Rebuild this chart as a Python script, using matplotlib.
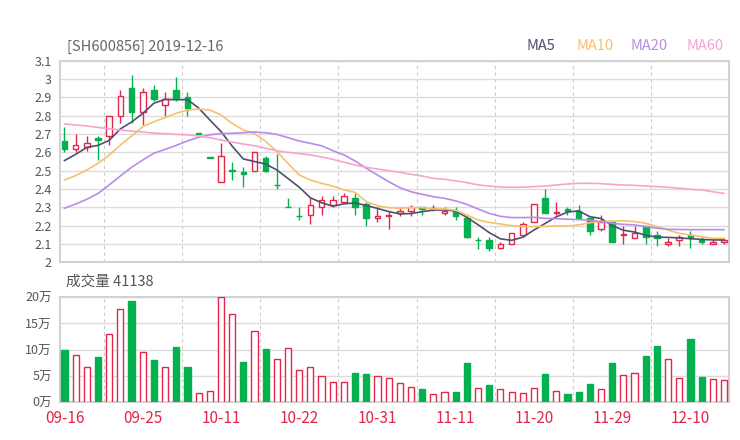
import matplotlib
matplotlib.use("Agg")
import matplotlib.pyplot as plt
import numpy as np

plt.rcParams['font.family'] = ['Noto Sans CJK SC', 'DejaVu Sans']

# ---------------- data ----------------
title_text = "[SH600856] 2019-12-16"
latest_volume = 41138

tick_pos = [0, 7, 14, 21, 28, 35, 42, 49, 56]
tick_labels = ["09-16", "09-25", "10-11", "10-22", "10-31", "11-11", "11-20", "11-29", "12-10"]

opens = [2.66, 2.62, 2.63, 2.68, 2.69, 2.80, 2.95, 2.82, 2.94, 2.86,
         2.94, 2.90, 2.70, 2.57, 2.44, 2.50, 2.49, 2.50, 2.57, 2.42,
         2.30, 2.25, 2.26, 2.30, 2.31, 2.33, 2.35, 2.32, 2.24, 2.25,
         2.27, 2.28, 2.30, 2.29, 2.27, 2.28, 2.24, 2.12, 2.12, 2.08,
         2.10, 2.15, 2.22, 2.35, 2.27, 2.29, 2.28, 2.24, 2.18, 2.22,
         2.15, 2.13, 2.20, 2.15, 2.10, 2.12, 2.15, 2.12, 2.10, 2.11]
highs = [2.74, 2.70, 2.69, 2.69, 2.80, 2.94, 3.02, 2.95, 2.97, 2.93,
         3.01, 2.93, 2.70, 2.57, 2.65, 2.55, 2.52, 2.60, 2.58, 2.59,
         2.35, 2.30, 2.35, 2.36, 2.36, 2.38, 2.38, 2.33, 2.30, 2.28,
         2.30, 2.31, 2.30, 2.31, 2.30, 2.30, 2.25, 2.14, 2.14, 2.11,
         2.16, 2.22, 2.32, 2.40, 2.33, 2.30, 2.31, 2.24, 2.26, 2.22,
         2.20, 2.20, 2.20, 2.17, 2.13, 2.15, 2.17, 2.14, 2.13, 2.13]
lows = [2.60, 2.60, 2.61, 2.56, 2.64, 2.76, 2.76, 2.75, 2.88, 2.80,
        2.88, 2.80, 2.70, 2.57, 2.44, 2.45, 2.41, 2.50, 2.49, 2.40,
        2.30, 2.23, 2.21, 2.26, 2.30, 2.33, 2.26, 2.20, 2.22, 2.18,
        2.25, 2.25, 2.26, 2.28, 2.26, 2.23, 2.13, 2.07, 2.06, 2.07,
        2.10, 2.14, 2.22, 2.27, 2.26, 2.26, 2.24, 2.15, 2.17, 2.11,
        2.10, 2.13, 2.10, 2.09, 2.09, 2.09, 2.08, 2.10, 2.10, 2.10]
closes = [2.62, 2.64, 2.65, 2.67, 2.80, 2.91, 2.82, 2.93, 2.89, 2.89,
          2.89, 2.84, 2.70, 2.57, 2.58, 2.50, 2.48, 2.60, 2.50, 2.42,
          2.30, 2.25, 2.31, 2.34, 2.34, 2.36, 2.30, 2.24, 2.25, 2.26,
          2.28, 2.30, 2.29, 2.29, 2.28, 2.25, 2.14, 2.12, 2.08, 2.10,
          2.16, 2.21, 2.32, 2.27, 2.27, 2.28, 2.24, 2.17, 2.22, 2.11,
          2.15, 2.16, 2.14, 2.13, 2.11, 2.14, 2.13, 2.11, 2.11, 2.12]

ma5 = [2.555, 2.589, 2.627, 2.638, 2.665, 2.728, 2.765, 2.812, 2.868, 2.889,
       2.887, 2.888, 2.842, 2.777, 2.714, 2.634, 2.564, 2.550, 2.536, 2.504,
       2.457, 2.410, 2.352, 2.325, 2.306, 2.319, 2.324, 2.310, 2.294, 2.277,
       2.264, 2.266, 2.276, 2.285, 2.286, 2.280, 2.245, 2.205, 2.162, 2.128,
       2.120, 2.137, 2.176, 2.212, 2.248, 2.274, 2.281, 2.249, 2.239, 2.200,
       2.175, 2.165, 2.148, 2.137, 2.136, 2.133, 2.129, 2.125, 2.122, 2.122]
ma10 = [2.449, 2.473, 2.504, 2.540, 2.585, 2.640, 2.689, 2.740, 2.767, 2.789,
        2.813, 2.831, 2.836, 2.831, 2.804, 2.758, 2.722, 2.702, 2.660, 2.604,
        2.540, 2.476, 2.449, 2.431, 2.416, 2.395, 2.382, 2.331, 2.309, 2.298,
        2.295, 2.298, 2.298, 2.291, 2.291, 2.284, 2.258, 2.231, 2.218, 2.209,
        2.200, 2.195, 2.195, 2.196, 2.198, 2.198, 2.204, 2.216, 2.222, 2.225,
        2.227, 2.222, 2.213, 2.195, 2.176, 2.158, 2.149, 2.140, 2.131, 2.131]
ma20 = [2.295, 2.318, 2.344, 2.376, 2.422, 2.471, 2.518, 2.558, 2.595, 2.616,
        2.638, 2.662, 2.682, 2.696, 2.702, 2.704, 2.707, 2.711, 2.707, 2.698,
        2.680, 2.662, 2.649, 2.636, 2.609, 2.586, 2.553, 2.513, 2.476, 2.440,
        2.407, 2.385, 2.371, 2.358, 2.349, 2.335, 2.316, 2.291, 2.267, 2.251,
        2.244, 2.244, 2.245, 2.240, 2.238, 2.235, 2.233, 2.229, 2.222, 2.213,
        2.207, 2.204, 2.195, 2.186, 2.180, 2.179, 2.178, 2.178, 2.178, 2.178]
ma60 = [2.755, 2.749, 2.744, 2.736, 2.729, 2.722, 2.716, 2.711, 2.705, 2.702,
        2.698, 2.695, 2.689, 2.680, 2.667, 2.656, 2.645, 2.636, 2.622, 2.609,
        2.600, 2.593, 2.586, 2.575, 2.562, 2.546, 2.531, 2.518, 2.509, 2.500,
        2.491, 2.480, 2.471, 2.458, 2.453, 2.444, 2.435, 2.422, 2.416, 2.411,
        2.409, 2.410, 2.413, 2.416, 2.422, 2.427, 2.431, 2.431, 2.429, 2.425,
        2.422, 2.420, 2.416, 2.413, 2.409, 2.404, 2.398, 2.395, 2.385, 2.376]

# volume in units of 万 (10,000 shares)
volume_wan = [9.87, 8.92, 6.62, 8.54, 12.93, 17.7, 19.3, 9.49, 8.09, 6.62,
              10.45, 6.62, 1.78, 2.17, 20.0, 16.9, 7.58, 13.57, 10.13, 8.15,
              10.25, 6.05, 6.62, 4.97, 3.76, 3.76, 5.6, 5.35, 5.03, 4.65,
              3.57, 2.8, 2.42, 1.46, 1.91, 1.85, 7.45, 2.68, 3.18, 2.48,
              1.91, 1.78, 2.61, 5.29, 2.04, 1.53, 1.91, 3.38, 2.48, 7.45,
              5.1, 5.48, 8.79, 10.64, 8.22, 4.65, 11.97, 4.78, 4.39, 4.1138]

price_ticks = [2.0, 2.1, 2.2, 2.3, 2.4, 2.5, 2.6, 2.7, 2.8, 2.9, 3.0, 3.1]
vol_ticks = [0, 5, 10, 15, 20]

ma_names = ["MA5", "MA10", "MA20", "MA60"]

# ---------------- style ----------------
RED = "#e4264a"
GREEN = "#05b14f"
MA_COLORS = ["#4f4f70", "#f7c06a", "#b98be8", "#f8a2cd"]
GRID = "#dcdcdc"
SPINE = "#d2d2d2"
TXT = "#555555"

n = len(closes)
x = np.arange(n)

fig = plt.figure(figsize=(7.4, 4.4), dpi=100)
ax = fig.add_axes([60 / 740, 1 - 262.3 / 440, 669 / 740, 201.6 / 440])
axv = fig.add_axes([60 / 740, 1 - 402 / 440, 669 / 740, 104.7 / 440])

for a in (ax, axv):
    a.set_xlim(-0.4, 59.45)
    for s in a.spines.values():
        s.set_color(SPINE)
        s.set_linewidth(1.5)
    a.tick_params(length=0, colors=TXT, labelsize=9, pad=6)
    for k in range(8):
        a.axvline(3.5 + 7 * k, color="#cccccc", lw=0.8, ls=(0, (3, 3)), zorder=0)

# price panel
ax.set_ylim(2.0, 3.1)
ax.set_yticks(price_ticks)
ax.set_yticklabels([f"{round(v, 1):g}" for v in price_ticks])
ax.grid(axis="y", color=GRID, lw=1, zorder=0)
ax.set_xticks([])

for i in range(n):
    o, h, l, c = opens[i], highs[i], lows[i], closes[i]
    up = c > o or (c == o and (i == 0 or c >= closes[i - 1]))
    col = RED if up else GREEN
    ax.vlines(i, l, h, color=col, lw=1, zorder=2)
    bottom = min(o, c)
    height = max(abs(c - o), 0.004)
    face = "white" if (up and c > o) else col
    ax.bar(i, height, width=0.5, bottom=bottom, facecolor=face,
           edgecolor=col, linewidth=1, zorder=3)

for vals, colr in zip([ma5, ma10, ma20, ma60], MA_COLORS):
    ax.plot(x, vals, color=colr, lw=1.2, zorder=4)

# volume panel
axv.set_ylim(0, 20)
axv.set_yticks(vol_ticks)
axv.set_yticklabels([f"{v}万" for v in vol_ticks])
axv.grid(axis="y", color=GRID, lw=1, zorder=0)
axv.set_xticks(tick_pos)
axv.set_xticklabels(tick_labels)
axv.tick_params(axis="x", colors=RED, labelsize=11, pad=6)

for i in range(n):
    vup = closes[i] >= opens[i]
    axv.bar(i, volume_wan[i], width=0.55,
            facecolor="white" if vup else GREEN,
            edgecolor=RED if vup else GREEN, linewidth=1, zorder=3)

# texts
fig.text(67 / 740, 1 - 47 / 440, title_text, ha="left", va="center",
         fontsize=10.5, color="#666666")
legend_x = [527, 576, 631, 686]
for name, colr, lx in zip(ma_names, MA_COLORS, legend_x):
    fig.text(lx / 740, 1 - 46 / 440, name, ha="left", va="center",
             fontsize=10.5, color=colr)
fig.text(66 / 740, 1 - 282 / 440, f"成交量 {latest_volume}", ha="left",
         va="center", fontsize=10.5, color="#555555")

fig.savefig("out.png", dpi=100)
